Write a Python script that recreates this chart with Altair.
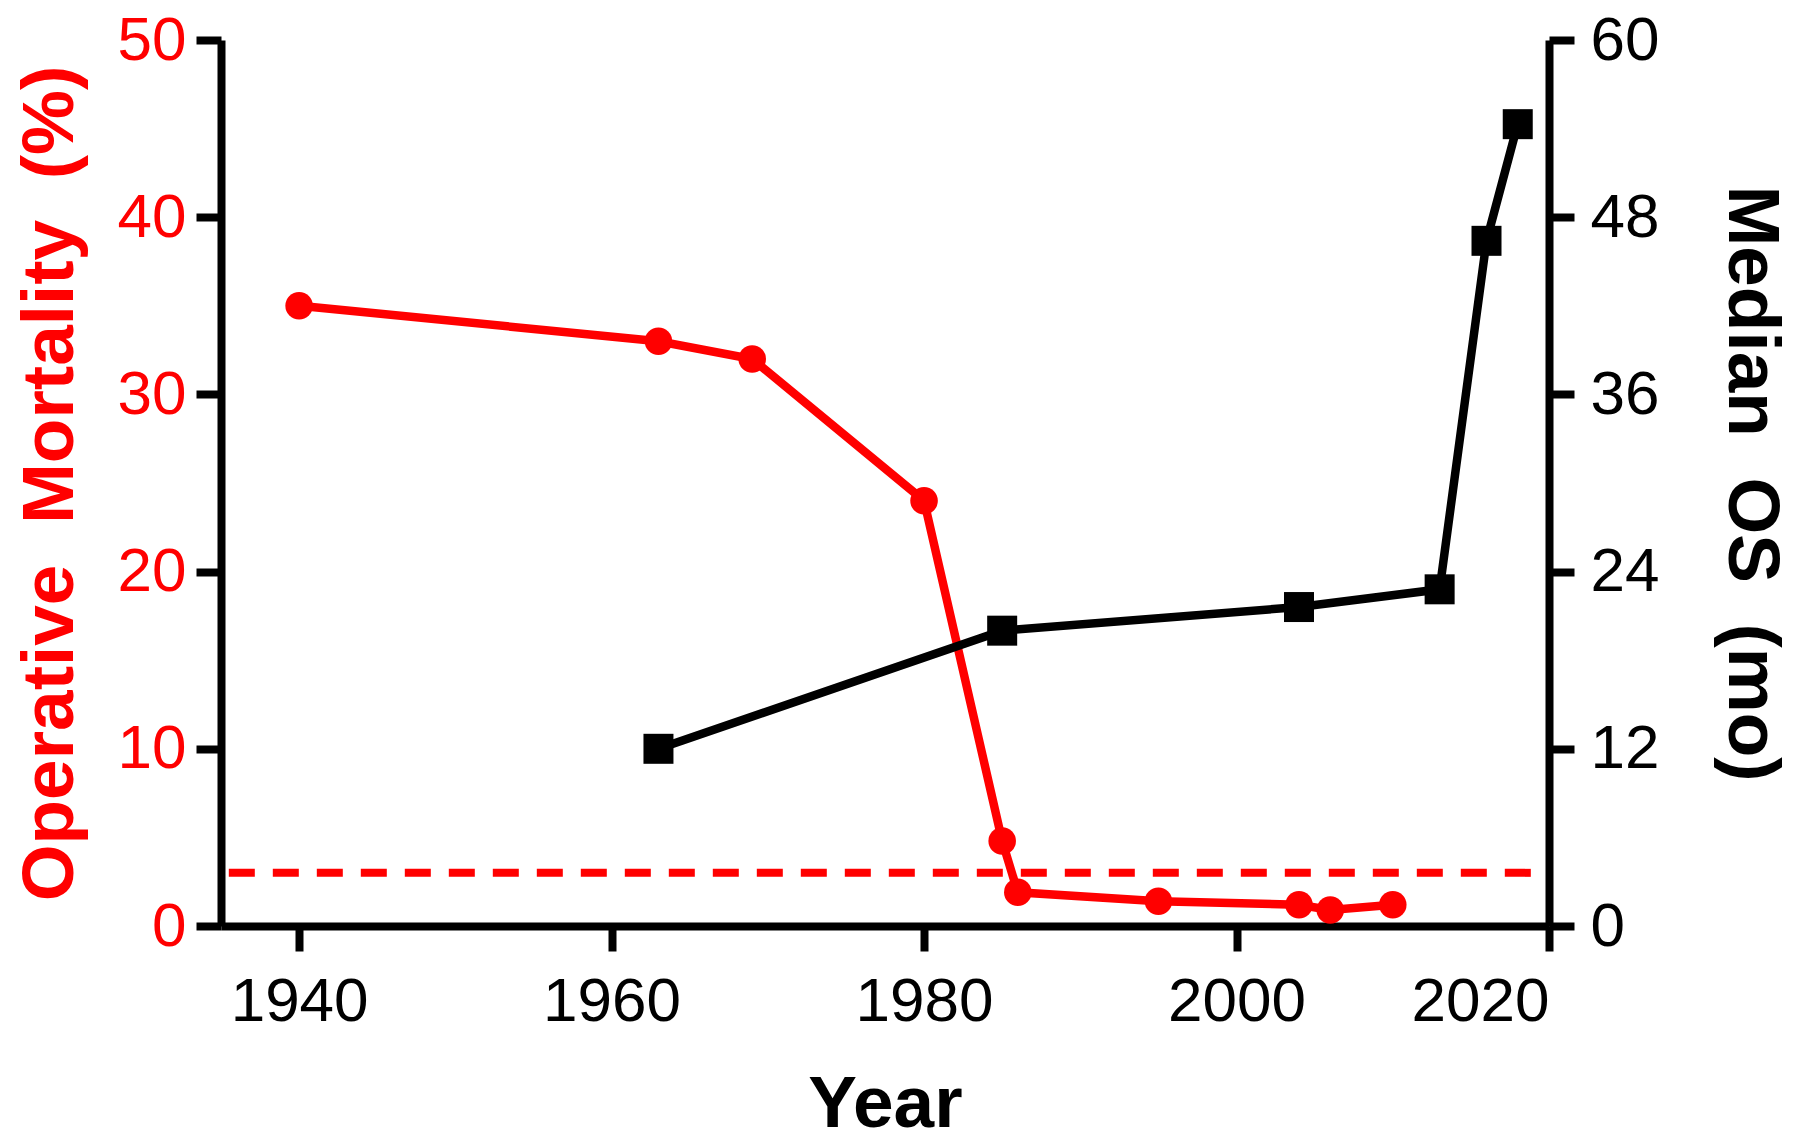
import altair as alt
import pandas as pd

# Operative mortality (%) — left axis, red
mort_years = [1940, 1963, 1969, 1980, 1985, 1986, 1995, 2004, 2006, 2010]
mort_values = [35.0, 33.0, 32.0, 24.0, 4.8, 1.9, 1.4, 1.2, 0.9, 1.2]

# Median OS (months) — right axis, black
os_years = [1963, 1985, 2004, 2013, 2016, 2018]
os_values = [12.0, 20.0, 21.6, 22.8, 46.4, 54.3]

# Reference dashed line (mortality %)
ref_value = 3
ref_years = [1935.5, 2019.2]

x_ticks = [1940, 1960, 1980, 2000, 2020]
left_ticks = [0, 10, 20, 30, 40, 50]
right_ticks = [0, 12, 24, 36, 48, 60]

FONT = "Liberation Sans"
W, H = 1328, 886

mort_df = pd.DataFrame({"year": mort_years, "value": mort_values})
os_df = pd.DataFrame({"year": os_years, "value": os_values})
ref_df = pd.DataFrame({"year": [ref_years[0]], "year2": [ref_years[1]], "value": [ref_value]})

x_enc = alt.X(
    "year:Q",
    scale=alt.Scale(domain=[1935, 2020], nice=False, zero=False),
    axis=alt.Axis(
        values=x_ticks, format="d", title="Year", grid=False,
        titleX=W / 2, titleY=200, titleBaseline="alphabetic", titleAlign="center",
    ),
)

red = alt.Chart(mort_df).mark_line(
    color="#ff0000", strokeWidth=8.5,
    point=alt.OverlayMarkDef(filled=True, color="#ff0000", size=760, shape="circle", opacity=1),
).encode(
    x=x_enc,
    y=alt.Y(
        "value:Q",
        scale=alt.Scale(domain=[0, 50], nice=False),
        axis=alt.Axis(
            orient="left", values=left_ticks, grid=False,
            title="Operative\u00a0 Mortality\u00a0 (%)",
            labelColor="#ff0000", titleColor="#ff0000",
            titleX=-149, titleY=H / 2, titleAngle=270,
            titleBaseline="alphabetic", titleAlign="center",
            labelPadding=10,
        ),
    ),
)

ref = alt.Chart(ref_df).mark_rule(
    color="#ff0000", strokeWidth=8, strokeDash=[26, 18]
).encode(
    x=alt.X("year:Q", scale=alt.Scale(domain=[1935, 2020], nice=False, zero=False)),
    x2="year2:Q",
    y=alt.Y("value:Q", scale=alt.Scale(domain=[0, 50], nice=False), axis=None),
)

black = alt.Chart(os_df).mark_line(
    color="#000000", strokeWidth=8.5,
    point=alt.OverlayMarkDef(filled=True, color="#000000", size=900, shape="square", opacity=1),
).encode(
    x=alt.X("year:Q", scale=alt.Scale(domain=[1935, 2020], nice=False, zero=False)),
    y=alt.Y(
        "value:Q",
        scale=alt.Scale(domain=[0, 60], nice=False),
        axis=alt.Axis(
            orient="right", values=right_ticks, grid=False,
            title="Median\u00a0 OS\u00a0 (mo)",
            labelColor="#000000", titleColor="#000000",
            titleX=179, titleY=H / 2, titleAngle=90,
            titleBaseline="alphabetic", titleAlign="center",
            labelPadding=16,
        ),
    ),
)

chart = alt.layer(red, ref, black).resolve_scale(y="independent").properties(
    width=W, height=H,
    autosize=alt.AutoSizeParams(type="none"),
    padding={"left": 213, "top": 32, "right": 235, "bottom": 212},
).configure_view(stroke=None).configure_axis(
    labelFont=FONT, titleFont=FONT,
    labelFontSize=62, titleFontSize=73, titleFontWeight="bold",
    domainColor="#000000", domainWidth=8,
    tickColor="#000000", tickWidth=8, tickSize=25,
    labelColor="#000000", titleColor="#000000",
    labelPadding=20,
)

chart.save("out.html", embed_options={"renderer": "svg", "actions": False})
